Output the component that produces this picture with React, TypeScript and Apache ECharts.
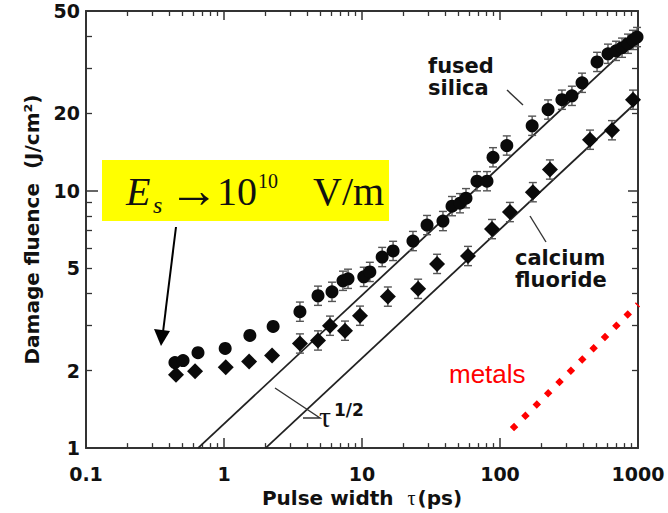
import React, { useEffect, useRef } from "react";
import * as echarts from "echarts";

// ---------- data ----------
const xTickValues = [0.1, 1, 10, 100, 1000];
const xTickLabels = ["0.1", "1", "10", "100", "1000"];
const xMinorTicks = [0.2, 0.3, 0.4, 0.5, 0.6, 0.7, 0.8, 0.9, 2, 3, 4, 5, 6, 7, 8, 9, 20, 30, 40, 50, 60, 70, 80, 90, 200, 300, 400, 500, 600, 700, 800, 900];
const yTickValues = [1, 2, 5, 10, 20, 50];
const yTickLabels = ["1", "2", "5", "10", "20", "50"];
const yMajorTicks = [1, 10];
const yMinorTicks = [2, 3, 4, 5, 6, 7, 8, 9, 20, 30, 40];

const silicaTau = [0.441, 0.505, 0.648, 1.02, 1.54, 2.27, 3.55, 4.8, 6.06, 7.28, 7.92, 10.3, 11.4, 14.0, 16.8, 23.4, 29.6, 38.6, 44.9, 51.3, 56.7, 68.1, 80.5, 89.0, 112, 171, 223, 281, 332, 393, 505, 606, 693, 766, 846, 920, 984];
const silicaF = [2.15, 2.19, 2.35, 2.44, 2.74, 2.97, 3.39, 3.91, 4.05, 4.47, 4.55, 4.63, 4.84, 5.53, 5.84, 6.38, 7.36, 7.63, 8.72, 8.95, 9.36, 10.9, 10.9, 13.5, 15.0, 17.9, 20.7, 22.6, 23.4, 26.3, 31.7, 34.1, 35.0, 36.0, 37.3, 38.6, 39.6];

const cafTau = [0.449, 0.617, 1.03, 1.52, 2.23, 3.55, 4.8, 5.86, 7.53, 9.67, 15.4, 25.5, 35.0, 58.6, 87.5, 118, 173, 230, 449, 648, 920];
const cafF = [1.93, 1.99, 2.06, 2.17, 2.29, 2.55, 2.62, 2.99, 2.86, 3.27, 3.88, 4.16, 5.2, 5.58, 7.1, 8.27, 9.88, 12.1, 15.8, 17.2, 22.6];

const silicaFitTau = [0.648, 1000];
const silicaFitF = [1, 39.3];
const cafFitTau = [2.0, 1000];
const cafFitF = [1, 22.4];
const metalsTau = [122, 1000];
const metalsF = [1.184, 3.62];

const errorFrac = 0.09; // relative error bar half-size
const errorFromTau = 3; // error bars visible from this pulse width on

// ---------- helpers ----------
const lg = (v: number) => Math.log10(v);
const pairs = (xs: number[], ys: number[]) => xs.map((x, i) => [lg(x), lg(ys[i])]);
const errs = (xs: number[], ys: number[]) =>
  xs
    .map((x, i) => [x, ys[i]])
    .filter((p) => p[0] >= errorFromTau)
    .map((p) => [lg(p[0]), lg(p[1] / (1 + errorFrac)), lg(p[1] * (1 + errorFrac))]);

const BOLD = "DejaVu Sans";
const AXC = "#333";

const xMin = lg(0.1);
const xMax = lg(1000);
const yMin = lg(1);
const yMax = lg(50);

function nearestLabel(v: number, values: number[], labels: string[]) {
  let best = 0;
  for (let i = 1; i < values.length; i++) {
    if (Math.abs(lg(values[i]) - v) < Math.abs(lg(values[best]) - v)) best = i;
  }
  return labels[best];
}

const line = (show: boolean) => ({ show, onZero: false, lineStyle: { color: AXC, width: 2 } });

const baseX = {
  type: "value",
  min: xMin,
  max: xMax,
  splitLine: { show: false },
};
const baseY = {
  type: "value",
  min: yMin,
  max: yMax,
  splitLine: { show: false },
};

export default function App() {
  const ref = useRef<HTMLDivElement>(null);
  useEffect(() => {
    if (!ref.current) return;
    const chart = echarts.init(ref.current, undefined, { renderer: "svg" });

    const errorRender = (params: any, api: any) => {
      const x = api.value(0);
      const p1 = api.coord([x, api.value(1)]);
      const p2 = api.coord([x, api.value(2)]);
      const w = 4;
      const st = { stroke: "#555", lineWidth: 1.4 };
      return {
        type: "group",
        children: [
          { type: "line", shape: { x1: p1[0], y1: p1[1], x2: p2[0], y2: p2[1] }, style: st },
          { type: "line", shape: { x1: p1[0] - w, y1: p1[1], x2: p1[0] + w, y2: p1[1] }, style: st },
          { type: "line", shape: { x1: p2[0] - w, y1: p2[1], x2: p2[0] + w, y2: p2[1] }, style: st },
        ],
      };
    };

    const txt = (text: string, x: number, y: number, extra: any = {}) => ({
      type: "text",
      z: 100,
      style: {
        text,
        x,
        y,
        fill: "#111",
        fontFamily: BOLD,
        fontWeight: "bold",
        fontSize: 20,
        align: "left",
        verticalAlign: "middle",
        textAlign: "left",
        textVerticalAlign: "middle",
        ...extra,
      },
    });

    const option: any = {
      animation: false,
      backgroundColor: "#fff",
      grid: { left: 86, right: 30, top: 11, bottom: 63, containLabel: false },
      xAxis: [
        {
          ...baseX,
          position: "bottom",
          interval: 1,
          axisLine: line(true),
          axisTick: { show: true, inside: true, length: 10, lineStyle: { color: AXC, width: 1.5 } },
          axisLabel: {
            margin: 16,
            color: "#111",
            fontFamily: BOLD,
            fontWeight: "bold",
            fontSize: 19,
            formatter: (v: number) => nearestLabel(v, xTickValues, xTickLabels),
          },
          name: "{b|Pulse width  }{t|τ}{b|(ps)}",
          nameLocation: "middle",
          nameGap: 36,
          nameTextStyle: {
            rich: {
              b: { fontFamily: BOLD, fontWeight: "bold", fontSize: 20, color: "#111" },
              t: { fontFamily: "Liberation Serif", fontSize: 20, color: "#111", padding: [0, 2, 0, 0] },
            },
          },
        },
        {
          ...baseX,
          position: "bottom",
          axisLine: line(false),
          axisLabel: { show: false },
          axisTick: { show: true, inside: true, length: 5, customValues: xMinorTicks.map(lg), lineStyle: { color: AXC, width: 1.3 } },
        },
        {
          ...baseX,
          position: "top",
          interval: 1,
          axisLine: line(true),
          axisLabel: { show: false },
          axisTick: { show: true, inside: true, length: 9, lineStyle: { color: AXC, width: 1.5 } },
        },
        {
          ...baseX,
          position: "top",
          axisLine: line(false),
          axisLabel: { show: false },
          axisTick: { show: true, inside: true, length: 5, customValues: xMinorTicks.map(lg), lineStyle: { color: AXC, width: 1.3 } },
        },
      ],
      yAxis: [
        {
          ...baseY,
          position: "left",
          axisLine: line(true),
          axisTick: { show: true, inside: true, length: 12, customValues: yMajorTicks.map(lg), lineStyle: { color: AXC, width: 1.5 } },
          axisLabel: {
            margin: 6,
            color: "#111",
            fontFamily: BOLD,
            fontWeight: "bold",
            fontSize: 19,
            customValues: yTickValues.map(lg),
            formatter: (v: number) => nearestLabel(v, yTickValues, yTickLabels),
          },
          name: "Damage fluence  (J/cm²)",
          nameLocation: "middle",
          nameGap: 44,
          nameTextStyle: { fontFamily: BOLD, fontWeight: "bold", fontSize: 20, color: "#111" },
        },
        {
          ...baseY,
          position: "left",
          axisLine: line(false),
          axisLabel: { show: false },
          axisTick: { show: true, inside: true, length: 6, customValues: yMinorTicks.map(lg), lineStyle: { color: AXC, width: 1.3 } },
        },
        {
          ...baseY,
          position: "right",
          axisLine: line(true),
          axisLabel: { show: false },
          axisTick: { show: true, inside: true, length: 10, customValues: yMajorTicks.map(lg), lineStyle: { color: AXC, width: 1.5 } },
        },
        {
          ...baseY,
          position: "right",
          axisLine: line(false),
          axisLabel: { show: false },
          axisTick: { show: true, inside: true, length: 6, customValues: yMinorTicks.map(lg), lineStyle: { color: AXC, width: 1.3 } },
        },
      ],
      series: [
        {
          type: "line",
          data: pairs(silicaFitTau, silicaFitF),
          symbol: "none",
          lineStyle: { color: "#222", width: 1.8 },
          clip: true,
          z: 2,
        },
        {
          type: "line",
          data: pairs(cafFitTau, cafFitF),
          symbol: "none",
          lineStyle: { color: "#222", width: 1.8 },
          clip: true,
          z: 2,
        },
        {
          type: "line",
          data: pairs(metalsTau, metalsF),
          symbol: "none",
          lineStyle: { color: "#ff0000", width: 6, type: [6, 10], cap: "butt" },
          clip: true,
          z: 2,
        },
        {
          type: "custom",
          renderItem: errorRender,
          data: errs(silicaTau, silicaF),
          encode: { x: 0, y: [1, 2] },
          clip: false,
          z: 3,
        },
        {
          type: "custom",
          renderItem: errorRender,
          data: errs(cafTau, cafF),
          encode: { x: 0, y: [1, 2] },
          clip: false,
          z: 3,
        },
        {
          type: "scatter",
          data: pairs(silicaTau, silicaF),
          symbol: "circle",
          symbolSize: 13,
          itemStyle: { color: "#0a0a0a", opacity: 1 },
          z: 4,
        },
        {
          type: "scatter",
          data: pairs(cafTau, cafF),
          symbol: "diamond",
          symbolSize: 16,
          itemStyle: { color: "#0a0a0a", opacity: 1 },
          z: 4,
        },
      ],
      graphic: [
        { type: "rect", z: 90, shape: { x: 102, y: 160, width: 287, height: 61 }, style: { fill: "#ffff00" } },
        txt("E", 126, 191, { fontFamily: "Liberation Serif", fontWeight: "normal", fontStyle: "italic", fontSize: 40 }),
        txt("s", 153, 205, { fontFamily: "Liberation Serif", fontWeight: "normal", fontStyle: "italic", fontSize: 24 }),
        txt("→", 169, 190, { fontFamily: "Liberation Serif", fontWeight: "normal", fontSize: 50 }),
        txt("10", 217, 191, { fontFamily: "Liberation Serif", fontWeight: "normal", fontSize: 40 }),
        txt("10", 258, 181, { fontFamily: "Liberation Serif", fontWeight: "normal", fontSize: 20 }),
        txt("V/m", 313, 191, { fontFamily: "Liberation Serif", fontWeight: "normal", fontSize: 40 }),
        { type: "line", z: 95, shape: { x1: 176, y1: 227, x2: 163, y2: 332 }, style: { stroke: "#000", lineWidth: 2 } },
        { type: "polygon", z: 95, shape: { points: [[161, 346], [154, 329], [170, 331]] }, style: { fill: "#000" } },
        txt("fused", 428, 66, { fontSize: 21 }),
        txt("silica", 428, 88, { fontSize: 21 }),
        { type: "line", z: 95, shape: { x1: 507, y1: 90, x2: 523, y2: 105 }, style: { stroke: "#333", lineWidth: 1.4 } },
        txt("calcium", 515, 258, { fontSize: 21 }),
        txt("fluoride", 515, 280, { fontSize: 21 }),
        { type: "line", z: 95, shape: { x1: 530, y1: 216, x2: 546, y2: 242 }, style: { stroke: "#333", lineWidth: 1.4 } },
        { type: "polyline", z: 95, shape: { points: [[275, 388], [320, 418], [303, 418]] }, style: { stroke: "#333", lineWidth: 1.4, fill: null } },
        txt("τ", 319, 416, { fontFamily: "Liberation Serif", fontWeight: "normal", fontSize: 30 }),
        txt("1/2", 334, 410, { fontSize: 17 }),
        txt("metals", 449, 374, { fontFamily: "Liberation Sans", fontWeight: "normal", fontSize: 26, fill: "#ff0000" }),
      ],
    };

    chart.setOption(option);
    return () => chart.dispose();
  }, []);

  return (
    <div
      ref={ref}
      style={{ position: "fixed", left: 0, top: 0, width: 668, height: 513, background: "#fff" }}
    />
  );
}
